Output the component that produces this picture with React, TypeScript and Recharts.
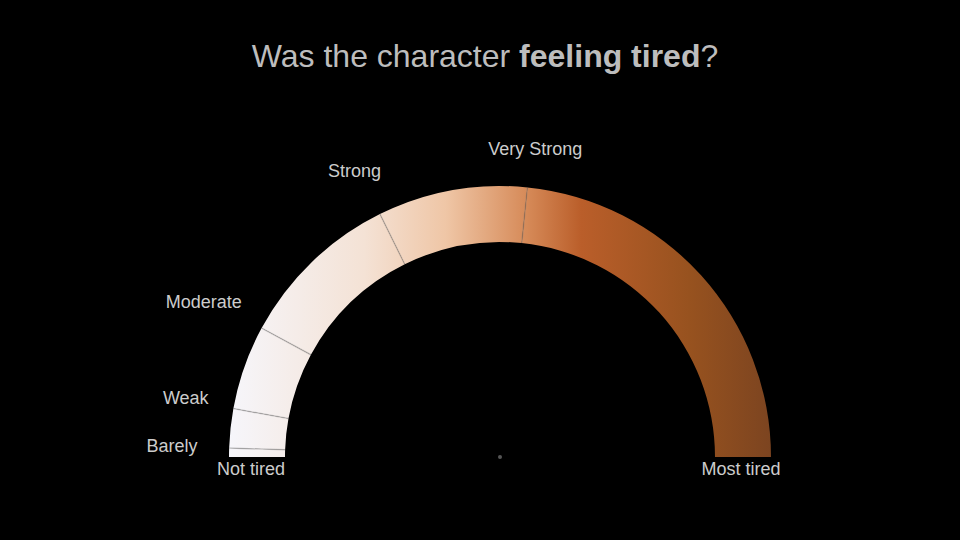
import React from "react";
import { PieChart, Pie, Cell } from "recharts";

// segment names along the gauge, left to right (last one is unlabeled)
const levels = ["Barely", "Weak", "Moderate", "Strong", "Very Strong", ""];
// angular share of each segment (degrees of the half circle)
const shares = [1.9, 8.4, 18.1, 35.3, 32.1, 84.2];
const endLabels = ["Not tired", "Most tired"];

const gradStops = [
    { offset: "0%", color: "#f6f6fb" },
    { offset: "25%", color: "#f4e2d5" },
    { offset: "40%", color: "#efc6a6" },
    { offset: "55%", color: "#d68a58" },
    { offset: "65%", color: "#ba5e2a" },
    { offset: "85%", color: "#97521f" },
    { offset: "100%", color: "#7c4420" },
];

const data = levels.map((name, i) => ({ name, value: shares[i] }));

const RADIAN = Math.PI / 180;
const polar = (cx: number, cy: number, r: number, angle: number) => ({
    x: cx + r * Math.cos(-angle * RADIAN),
    y: cy + r * Math.sin(-angle * RADIAN),
});

const CX = 500;
const CY = 457;
const INNER = 215;
const OUTER = 271;

const renderLabel = (props: any) => {
    const { cx, cy, innerRadius, outerRadius, startAngle, endAngle, index, name } = props;
    const parts: React.ReactNode[] = [];
    const last = index === levels.length - 1;

    if (!last) {
        // separator line at the end of the segment
        const a = polar(cx, cy, innerRadius, endAngle);
        const b = polar(cx, cy, outerRadius, endAngle);
        parts.push(
            <line key="sep" x1={a.x} y1={a.y} x2={b.x} y2={b.y}
                stroke="rgba(120,120,120,0.35)" strokeWidth={1.5} />
        );
        if (name) {
            const p = polar(cx, cy, 302, endAngle);
            const dx = Math.cos(-endAngle * RADIAN);
            const dy = Math.sin(-endAngle * RADIAN);
            const theta = (180 - endAngle) * RADIAN;
            const lift = 9 * Math.sin(2 * theta);
            const hw = (name.length * 8.7) / 2;
            parts.push(
                <text key="lbl" x={p.x + dx * hw} y={p.y + dy * 9 - lift}
                    textAnchor="middle" dominantBaseline="central"
                    fill="#cccccc" fontSize={18}>
                    {name}
                </text>
            );
        }
    }

    if (index === 0) {
        const mid = polar(cx, cy, (innerRadius + outerRadius) / 2, startAngle);
        parts.push(
            <text key="start" x={mid.x - 6} y={mid.y + 12} textAnchor="middle"
                dominantBaseline="central" fill="#cccccc" fontSize={18}>
                {endLabels[0]}
            </text>
        );
        parts.push(<circle key="dot" cx={cx} cy={cy} r={2} fill="#555" />);
    }
    if (last) {
        const mid = polar(cx, cy, (innerRadius + outerRadius) / 2, endAngle);
        parts.push(
            <text key="end" x={mid.x - 2} y={mid.y + 12} textAnchor="middle"
                dominantBaseline="central" fill="#cccccc" fontSize={18}>
                {endLabels[1]}
            </text>
        );
    }
    return <g key={`label-${index}`}>{parts}</g>;
};

export default function App() {
    return (
        <div
            style={{
                position: "absolute",
                left: 0,
                top: 0,
                width: 960,
                height: 540,
                background: "#000",
                fontFamily: "'Liberation Sans', Arial, sans-serif",
            }}
        >
            <div
                style={{
                    position: "absolute",
                    top: 38,
                    left: 5,
                    width: 960,
                    textAlign: "center",
                    fontSize: 32,
                    color: "#bdbdbd",
                }}
            >
                Was the character <b>feeling tired</b>?
            </div>
            <div style={{ position: "absolute", left: 0, top: 0 }}>
                <PieChart width={960} height={540} margin={{ top: 0, right: 0, bottom: 0, left: 0 }}>
                    <defs>
                        <linearGradient id="tiredGrad" gradientUnits="userSpaceOnUse"
                            x1={CX - OUTER} y1={0} x2={CX + OUTER} y2={0}>
                            {gradStops.map((s) => (
                                <stop key={s.offset} offset={s.offset} stopColor={s.color} />
                            ))}
                        </linearGradient>
                    </defs>
                    <Pie
                        data={data}
                        dataKey="value"
                        nameKey="name"
                        cx={CX}
                        cy={CY}
                        innerRadius={INNER}
                        outerRadius={OUTER}
                        startAngle={180}
                        endAngle={0}
                        stroke="none"
                        label={renderLabel}
                        labelLine={false}
                        isAnimationActive={false}
                    >
                        {data.map((entry, index) => (
                            <Cell key={`cell-${index}`} fill="url(#tiredGrad)" stroke="none" />
                        ))}
                    </Pie>
                </PieChart>
            </div>
        </div>
    );
}
